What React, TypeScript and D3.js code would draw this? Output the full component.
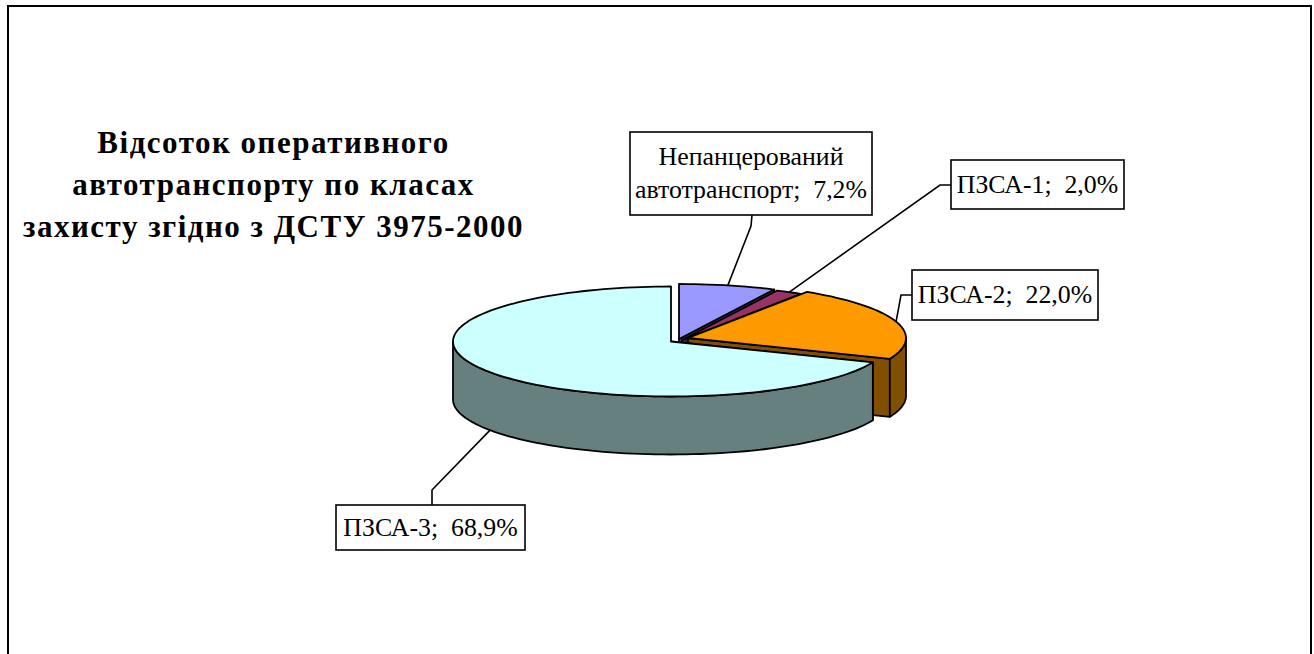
import React from 'react';
import * as d3 from 'd3';

const categories = ['Непанцерований автотранспорт', 'ПЗСА-1', 'ПЗСА-2', 'ПЗСА-3'];
const values = [7.2, 2.0, 22.0, 68.9];
const labelLines = [['Непанцерований', 'автотранспорт;  7,2%'], ['ПЗСА-1;  2,0%'], ['ПЗСА-2;  22,0%'], ['ПЗСА-3;  68,9%']];
const titleLines = ['Відсоток оперативного', 'автотранспорту по класах', 'захисту згідно з ДСТУ 3975-2000'];

const topColors = ['#9999ff', '#993366', '#ff9900', '#ccffff'];
const wallColors = ['#4d4d80', '#4d1a33', '#805000', '#668080'];

const width = 1314;
const height = 654;
const rx = 218;
const ry = 55;
const depth = 58;
const toRad = Math.PI / 180;

// every slice is pulled out of the pie a little, so each has its own centre
const centres = [
  { x: 679, y: 339 },
  { x: 682, y: 340 },
  { x: 688, y: 338 },
  { x: 671, y: 341.5 }
];

// label boxes and where the leader line bends
const boxes = [
  { x: 630, y: 132, w: 242, h: 83, line: [[752, 215], [751, 226]] },
  { x: 951, y: 160, w: 173, h: 49, line: [[951, 185], [940, 185]] },
  { x: 912, y: 270, w: 186, h: 50, line: [[912, 295], [901, 295]] },
  { x: 336, y: 505, w: 189, h: 45, line: [[432, 505], [432, 490]] }
];

const pie = d3.pie<number>().sort(null).startAngle(0).endAngle(2 * Math.PI);

const rim = (c: { x: number; y: number }, a: number, dy = 0): [number, number] => [
  c.x + rx * Math.sin(a),
  c.y - ry * Math.cos(a) + dy
];

const arcPoints = (c: { x: number; y: number }, a0: number, a1: number, dy = 0) => {
  const steps = Math.max(2, Math.ceil(Math.abs(a1 - a0) / (2 * toRad)));
  return d3.range(steps + 1).map(i => rim(c, a0 + ((a1 - a0) * i) / steps, dy));
};

const path = d3.line();

export default function App() {
  const arcs = pie(values);

  return (
    <svg
      width={width}
      height={height}
      style={{ position: 'absolute', left: 0, top: 0, display: 'block', background: '#fff' }}
      fontFamily="'Liberation Serif', serif"
    >
      <path d={`M8,${height}V6H1311V${height}`} fill="none" stroke="#000" strokeWidth={2} />

      <g fontSize={31} fontWeight="bold" textAnchor="middle" fill="#000" letterSpacing={1.5}>
        {titleLines.map((t, i) => (
          <text key={t} x={273.5} y={[153, 195, 237][i]}>{t}</text>
        ))}
      </g>

      <g stroke="#000" strokeWidth={1.8} strokeLinejoin="round">
        {arcs.map((d, i) => {
          const c = centres[i];
          const start = rim(c, d.startAngle);
          const end = rim(c, d.endAngle);
          const apex: [number, number] = [c.x, c.y];

          // outer wall: only the part of the rim facing the viewer
          const w0 = Math.max(d.startAngle, 90 * toRad);
          const w1 = Math.min(d.endAngle, 270 * toRad);
          const hasWall = w1 > w0 || d.startAngle < 90 * toRad && d.endAngle > 90 * toRad;
          const wall = [...arcPoints(c, w0 < d.startAngle ? d.startAngle : w0, w1), ...arcPoints(c, w1, w0, depth)];

          // cut faces seen from the front
          const endFace = [apex, end, [end[0], end[1] + depth], [c.x, c.y + depth]] as [number, number][];
          const startFace = [apex, start, [start[0], start[1] + depth], [c.x, c.y + depth]] as [number, number][];

          return (
            <g key={categories[i]}>
              {i < 3 && <path d={`${path(endFace)}Z`} fill={wallColors[i]} />}
              {i === 3 && <path d={`${path(startFace)}Z`} fill={wallColors[i]} />}
              {hasWall && <path d={`${path(wall)}Z`} fill={wallColors[i]} />}
              <path d={`${path([apex, ...arcPoints(c, d.startAngle, d.endAngle)])}Z`} fill={topColors[i]} />
            </g>
          );
        })}
      </g>

      {arcs.map((d, i) => {
        const box = boxes[i];
        const mid = (d.startAngle + d.endAngle) / 2;
        // the front slice's leader leaves from the bottom of its wall
        const anchor = rim(centres[i], mid, Math.cos(mid) < 0 ? depth : 0);
        const lineH = 33;
        const firstY = box.y + box.h / 2 + 8 - ((labelLines[i].length - 1) * lineH) / 2;
        return (
          <g key={categories[i]}>
            <path d={path([...box.line as [number, number][], anchor]) ?? ''} fill="none" stroke="#000" strokeWidth={1.6} />
            <rect x={box.x} y={box.y} width={box.w} height={box.h} fill="#fff" stroke="#000" strokeWidth={1.6} />
            {labelLines[i].map((t, j) => (
              <text
                key={t}
                x={box.x + box.w / 2}
                y={firstY + j * lineH}
                fontSize={25.8}
                textAnchor="middle"
                fill="#000"
                style={{ whiteSpace: 'pre' }}
              >
                {t}
              </text>
            ))}
          </g>
        );
      })}
    </svg>
  );
}
